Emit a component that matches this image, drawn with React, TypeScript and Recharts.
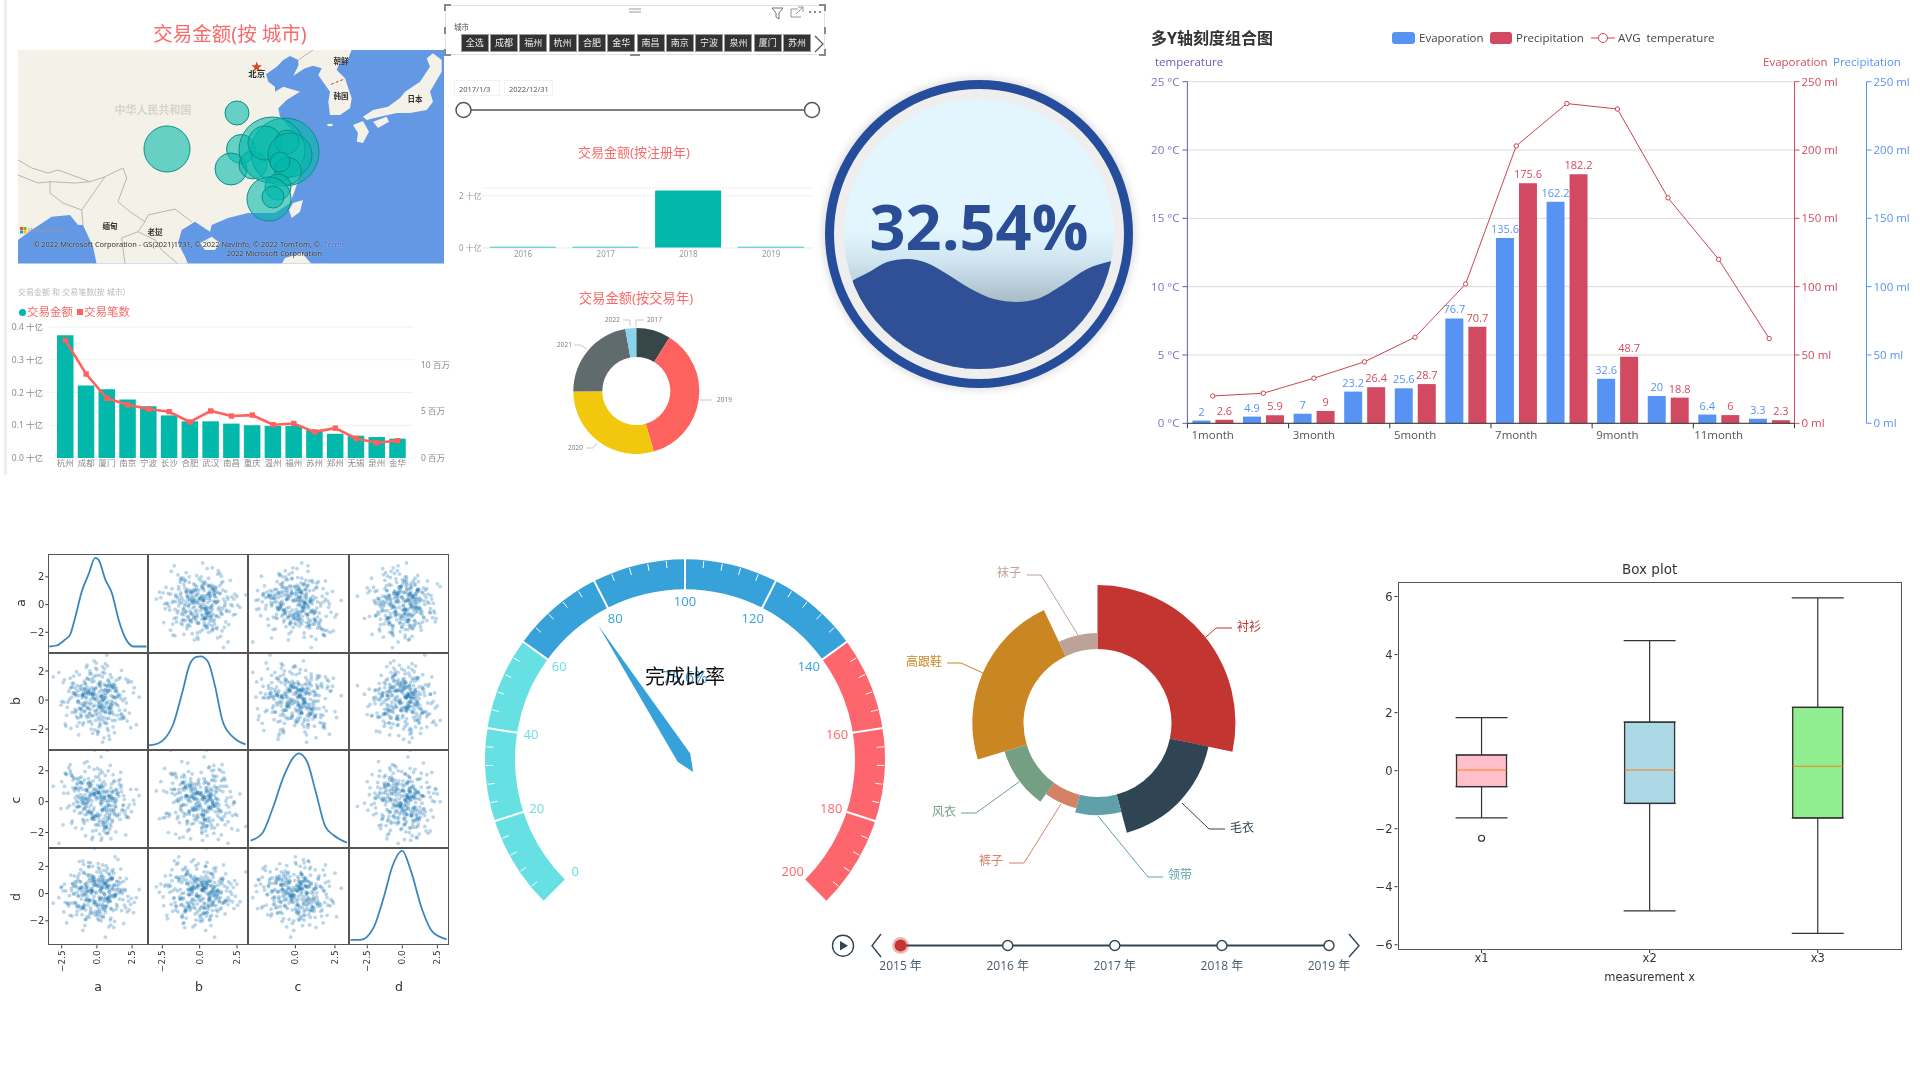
import React from "react";
import {
  Area, AreaChart, Bar, BarChart, CartesianGrid, Cell, ComposedChart, ErrorBar, LabelList, Line, LineChart,
  Pie, PieChart, Scatter, ScatterChart, XAxis, YAxis, ZAxis,
} from "recharts";

const cjk = "'Noto Sans','Noto Sans CJK SC',sans-serif";
const open = "'Open Sans','Noto Sans CJK SC',sans-serif";
const dejavu = "'DejaVu Sans',sans-serif";
const TEAL = "#01B8AA";
const CORAL = "#FD625E";

// ---------- map bubbles ----------
const bubbleX = [149, 219, 223, 213, 235, 267, 254, 247, 269, 272, 270, 262, 260, 251, 255];
const bubbleY = [99, 63, 99, 119, 115, 102, 100, 93, 92, 105, 121, 112, 137, 149, 147];
const bubbleArea = [1662, 452, 660, 804, 616, 3632, 3421, 908, 452, 1521, 573, 314, 531, 1521, 380];

// ---------- city combo ----------
const cities = ["杭州", "成都", "厦门", "南京", "宁波", "长沙", "合肥", "武汉", "南昌", "重庆", "温州", "福州", "苏州", "郑州", "无锡", "泉州", "金华"];
const cityAmount = [0.375, 0.221, 0.21, 0.179, 0.158, 0.13, 0.112, 0.112, 0.105, 0.1, 0.098, 0.098, 0.086, 0.074, 0.068, 0.064, 0.059];
const cityCount = [12.6, 9.0, 6.4, 5.7, 5.25, 4.96, 3.86, 5.04, 4.5, 4.6, 3.57, 3.7, 2.8, 3.2, 2.1, 1.64, 1.86];

// ---------- slicer / registration year ----------
const slicerCities = ["全选", "成都", "福州", "杭州", "合肥", "金华", "南昌", "南京", "宁波", "泉州", "厦门", "苏州"];
const regYears = ["2016", "2017", "2018", "2019"];
const regAmount = [0.05, 0.05, 2.2, 0.05];

// ---------- trade-year donut ----------
const tradeYears = ["2017", "2019", "2020", "2021", "2022"];
const tradeShare = [8.8, 36.7, 29.4, 22.3, 2.8];
const tradeColors = ["#374649", CORAL, "#F2C80F", "#5F6B6D", "#8AD4EB"];

// ---------- liquid ----------
const waveX = [0, 8, 27, 43, 63, 83, 103, 127, 150, 173, 193, 217, 243, 268, 270];
const waveH = [83, 88, 98, 107, 110, 106, 95, 80, 70, 67, 70, 83, 100, 108, 108.5];

// ---------- multi axis ----------
const months = ["1month", "2month", "3month", "4month", "5month", "6month", "7month", "8month", "9month", "10month", "11month", "12month"];
const evaporation = [2, 4.9, 7, 23.2, 25.6, 76.7, 135.6, 162.2, 32.6, 20, 6.4, 3.3];
const precipitation = [2.6, 5.9, 9, 26.4, 28.7, 70.7, 175.6, 182.2, 48.7, 18.8, 6, 2.3];
const avgTemp = [2, 2.2, 3.3, 4.5, 6.3, 10.2, 20.3, 23.4, 23, 16.5, 12, 6.2];

// ---------- scatter matrix ----------
const aVals = [0.3,-0.8,1.2,-0.1,0.6,-1.5,0.9,-0.4,2.1,-2.0,0.1,0.7,-0.6,1.6,-1.1,0.4,-0.2,1.0,-1.8,0.2,-0.9,0.8,2.6,-0.3,0.5,-1.3,1.4,-0.7,0.0,1.1,-2.4,0.6,-0.5,1.9,-1.0,0.3,-0.1,1.3,-1.6,0.9,-3.1,0.2,0.7,-0.8,1.7,-0.4,0.5,-1.2,1.0,-0.2,2.3,-1.7,0.1,0.8,-0.6,1.2,-0.9,0.4,-1.4,0.6,3.0,-0.3,0.2,-1.1,1.5,-0.5,0.9,-2.2,0.3,1.1,-0.7,0.0,1.8,-1.0,0.5,-0.2,-1.9,0.7,1.3,-0.4,0.2,-1.3,2.0,-0.6,0.8,-0.1,1.0,-1.5,0.4,-2.7,0.6,1.4,-0.8,0.1,-0.3,1.2,-1.2,0.9,2.4,-0.5,0.3,-1.0,0.6,1.6,-0.7,-0.1,1.1,-1.6,0.4,-2.1,0.8,0.2,-0.4,1.3,-0.9,0.5,-1.4,1.9,0.0,-0.6,0.7,-1.1,1.0,-0.2,2.8,-1.8,0.3,0.9,-0.5,1.5,-0.8,0.1,-1.2,0.6,-0.3,1.2,-2.5,0.4,0.8,-0.7,1.7,-1.0,0.2,-0.1,1.1,-1.5,0.5,-0.4,2.2,-0.9,0.7,-1.3,0.0,1.4,-0.6,0.3,-1.7,0.9,-0.2,1.0,-2.3,0.6,1.8,-0.8,0.1,-1.1,0.4,-0.5,1.3,-1.4,0.8,-0.3,0.2,2.0,-1.9,0.5,-0.7,1.1,-1.0,0.3,
  -0.25,0.85,-1.05,0.35,1.55,-0.65,0.15,-1.35,0.75,-0.45,1.15,-0.15,-2.15,0.55,1.75,-0.95,0.25,-0.55,1.25,-1.65,0.45,0.95,-0.35,-1.25,0.65,2.25,-0.75,0.05,-1.45,1.05,0.35,-0.85,1.45,-0.05,-1.85,0.85,0.15,-0.65,2.45,-1.15,0.55,-0.25,0.75,-1.55,1.35,-0.45,0.25,-2.55,0.95,-0.15,1.65,-0.95,0.45,-0.75,1.15,-1.25,0.05,0.65,-0.35,1.85,-1.75,0.35,-0.55,0.85,-1.05,2.05,0.15,-0.25,-1.35,1.25,0.55,-0.85,0.75,-2.35,0.25,1.05,-0.65,-0.05,1.55,-1.45,0.45,-0.15,0.95,-0.95,-1.95,1.35,0.65,-0.45,0.05,-1.15,2.65,-0.35,0.35,-0.75,1.45,-1.65,0.85,-0.25,0.15,-1.05,1.75,-0.55,0.55,-2.05,1.15,-0.85,0.25,-0.15,0.75,-1.35,1.95,-0.65,0.45,-1.25,0.05,1.05,-0.45,-1.75,0.95,0.35,-0.95,2.15,-0.05,0.65,-1.55,1.25,-0.35,0.15,-0.75,1.65,-2.25,0.85,-0.25,0.55,-1.15,0.25,1.35,-0.55,-0.85,1.05,0.45,-1.45,0.75,-0.15];
const bVals = [-0.5,1.1,0.2,-1.4,0.7,0.3,-0.9,1.8,-0.2,0.6,-2.2,1.0,0.4,-0.7,-1.1,2.3,0.1,-0.3,0.9,-1.6,1.3,-0.6,0.5,1.5,-2.6,-0.1,0.8,-1.2,0.3,-0.4,1.2,-0.8,2.0,0.6,-1.7,0.2,-1.0,0.9,0.4,-0.5,1.6,-0.2,-1.3,0.7,0.1,-2.0,1.1,-0.6,0.3,2.7,-0.9,0.5,-0.1,1.4,-1.5,0.8,-0.4,-2.9,0.6,1.0,0.2,-1.1,1.7,-0.7,0.4,-0.3,1.2,-1.8,0.0,0.9,-0.5,2.1,-1.2,0.3,-0.8,0.7,1.5,-0.2,-1.4,0.5,1.0,-2.4,0.1,-0.6,1.3,0.8,-0.9,0.4,-0.1,1.9,-1.6,0.6,-0.3,1.1,0.2,-1.0,0.7,-0.7,-1.9,1.4,0.3,-0.4,2.5,-1.3,0.9,0.0,-0.8,0.5,1.6,-0.5,-2.1,1.2,0.4,-0.2,0.8,-1.5,1.0,-1.1,0.1,0.6,3.1,-0.6,-0.3,1.3,-1.7,0.2,0.7,-0.9,1.8,-0.4,0.5,-1.2,0.9,0.3,-2.3,1.1,-0.1,-0.7,0.6,1.5,-1.0,0.4,-0.5,2.2,-1.4,0.8,0.0,-0.2,1.2,-0.8,-1.6,0.3,1.7,-0.3,0.5,-1.1,0.9,-2.7,0.1,-0.6,1.4,0.7,-1.3,0.2,-0.4,1.0,1.9,-0.9,0.6,-1.8,-0.1,0.4,1.1,-0.7,0.8,-1.2,2.4,-0.2,0.3,-0.5,
  0.75,-1.25,0.15,-0.35,1.45,0.55,-1.85,-0.15,0.95,-0.65,0.25,1.65,-1.05,-0.45,2.05,0.35,-0.85,0.65,-2.25,1.15,0.05,-0.55,0.85,-1.55,-0.25,1.35,0.45,-0.95,1.95,-0.05,-1.35,0.75,0.25,-0.75,-1.95,1.05,0.55,-0.15,1.25,-1.15,-0.55,0.35,2.35,-0.85,0.15,-1.45,0.95,-0.35,0.65,-2.05,1.55,-0.25,0.05,-1.05,0.85,1.75,-0.65,0.45,-1.65,-0.05,1.15,0.25,-0.95,-2.45,0.75,1.45,-0.45,0.35,-1.25,0.15,1.85,-0.75,0.55,-0.15,-1.75,1.05,-0.55,2.55,0.25,-1.15,0.65,-0.35,0.95,-1.55,0.05,1.35,-0.85,0.45,-2.15,-0.25,0.85,1.25,-0.65,0.15,-1.05,1.65,-0.45,0.55,-1.35,0.35,-0.95,0.75,2.15,-0.15,-1.85,1.15,0.25,-0.75,0.65,-0.05,-1.25,1.45,0.45,-0.55,-2.35,0.95,0.05,-0.85,1.75,-0.35,0.55,-1.45,0.85,0.15,-0.65,1.05,-1.05,-0.25,2.25,0.35,-1.65,0.75,-0.45,0.15,-0.95,1.25,0.65,-1.15,-0.15,1.55,0.25,-0.75,-1.95,0.45];
const cVals = [1.0,0.2,-0.6,0.8,-1.3,1.5,0.4,-0.2,-1.0,2.2,0.6,-1.7,0.3,-0.8,1.2,0.0,-0.4,0.9,1.7,-2.1,-0.5,0.7,0.1,-1.1,1.3,-0.3,0.5,2.6,-0.9,0.2,-1.5,1.1,-0.7,0.4,0.8,-2.5,1.6,-0.1,-0.6,0.3,1.0,-1.2,0.6,-0.4,1.9,-0.8,0.2,1.3,-1.6,0.5,-0.2,0.9,-1.0,2.0,0.1,-0.5,-1.4,0.7,1.1,-0.3,0.4,-2.3,1.4,-0.7,0.6,0.2,-0.9,1.8,-0.1,-1.2,0.8,0.3,-0.6,1.2,-1.9,0.5,2.4,-0.4,0.0,-1.1,1.0,0.7,-0.8,1.5,-0.2,-1.5,0.4,0.9,-0.5,-2.7,1.7,0.1,-0.3,0.6,-1.0,1.3,0.2,-1.8,0.8,-0.6,2.9,0.3,-0.9,1.1,-0.1,0.5,-1.3,0.7,1.9,-0.4,-2.0,0.9,-0.7,0.2,1.4,-1.1,0.4,-0.2,0.6,1.2,-1.6,0.0,-0.5,2.1,0.8,-1.4,0.3,-0.8,1.0,0.5,-2.2,1.6,-0.3,0.1,-1.0,0.7,1.3,-0.6,0.4,-1.2,0.9,-0.1,1.8,-0.9,0.2,-1.7,0.6,1.1,-0.4,2.5,-0.7,0.3,-1.5,0.8,0.0,-0.2,1.4,-1.1,0.5,-2.4,1.0,0.7,-0.5,0.2,-0.9,1.6,-1.3,0.4,-0.3,1.2,0.1,-1.9,0.9,-0.6,2.0,0.3,-0.8,0.6,
  -1.15,0.45,0.85,-0.25,-1.75,0.15,1.35,-0.65,0.55,-0.05,-2.05,1.05,0.25,-0.95,1.75,-0.45,0.65,-1.25,0.35,2.25,-0.75,-0.15,0.95,-1.45,0.05,1.55,-0.55,-1.05,0.75,0.25,-0.35,1.15,-2.35,0.45,-0.85,0.15,1.85,-0.25,-1.55,0.65,-0.65,1.25,0.35,-1.15,-0.05,0.85,-1.95,0.55,2.05,-0.45,0.25,-0.95,1.45,-0.15,-1.35,0.75,0.05,-0.75,1.05,-1.65,0.45,-0.25,1.65,-0.55,0.95,-1.05,0.15,-2.15,0.65,1.35,-0.35,-0.85,0.25,1.95,-1.25,0.55,-0.05,-0.65,1.15,-1.85,0.35,0.85,-0.45,-1.15,2.35,0.05,-0.25,0.75,-1.45,1.25,-0.75,0.45,-0.15,-2.45,0.95,0.15,-0.95,1.55,-0.55,0.65,-1.35,0.25,1.05,-0.35,-1.75,0.55,1.75,-0.05,-0.85,0.35,-1.05,1.45,0.15,-0.65,-1.55,0.85,2.15,-0.25,0.45,-1.25,0.05,1.15,-0.45,-0.95,0.75,-2.05,0.25,1.35,-0.75,0.55,-0.15,-1.15,1.85,0.35,-0.55,-1.65,0.95,0.15,-0.35,1.25,-0.85,0.65,-1.45,0.05];
const dVals = [0.1,-1.2,0.6,0.9,-0.3,-0.7,1.4,0.2,1.1,-0.9,-1.6,0.5,2.0,0.3,-0.4,-1.1,0.8,-2.3,0.4,1.2,0.0,-0.6,-1.4,1.0,0.7,-0.2,-0.8,-1.7,1.6,0.5,0.2,-1.0,-0.5,0.9,2.4,0.6,-1.3,-0.1,1.3,0.3,-0.7,1.8,-0.4,-1.9,0.8,0.1,-0.9,0.4,1.1,-0.6,-1.2,0.7,2.2,-0.3,0.2,1.5,-0.8,0.5,-1.0,-3.2,0.3,1.0,-0.5,-0.1,0.9,-1.5,0.6,0.2,-2.0,1.2,-0.4,0.7,0.0,-1.1,1.7,-0.2,-0.7,0.4,2.7,-1.4,0.8,-0.9,0.3,1.3,-0.6,0.1,-1.8,0.5,1.0,-0.3,-1.2,0.6,-0.5,1.9,0.2,-2.5,0.9,-0.1,-0.8,1.1,0.4,-1.0,0.7,-0.4,1.4,-1.6,0.3,0.0,2.1,-0.7,0.5,-1.3,0.8,-0.2,-0.9,1.2,0.1,-2.2,0.6,-0.6,1.6,0.4,-1.1,0.9,-0.3,0.2,-1.7,1.0,-0.5,2.5,0.7,-0.8,0.3,-1.4,1.3,-0.1,0.5,-1.0,-0.4,0.8,1.8,-2.7,0.2,-0.6,1.1,0.6,-1.2,0.0,-0.2,1.5,-0.9,0.4,-1.5,0.9,2.3,-0.3,-0.7,0.1,1.2,-1.1,0.7,-0.5,0.3,-1.9,1.0,0.5,-0.8,1.4,-0.1,-1.3,0.6,2.0,-0.4,0.2,-1.6,0.8,-0.2,1.1,-1.0,0.4,
  0.55,-0.35,-1.55,1.25,0.05,-0.85,0.95,-0.15,1.85,-1.25,0.35,-0.65,-2.15,0.75,0.15,-1.05,1.55,-0.45,0.65,-0.05,-1.75,1.15,0.25,-0.95,2.05,-0.55,0.45,-1.35,0.85,-0.25,1.05,-2.35,0.35,-0.75,1.35,0.15,-1.15,0.55,-0.35,1.75,-0.05,-1.45,0.95,-0.65,0.25,2.25,-0.85,0.45,-1.95,0.65,1.15,-0.15,-0.55,0.05,-1.25,1.45,-0.95,0.75,0.35,-0.45,-1.65,0.85,1.95,-0.25,0.15,-1.05,0.55,-0.75,1.25,-2.05,0.45,-0.05,0.95,-1.35,-0.35,1.65,0.25,-0.85,0.65,-1.55,0.05,1.05,-0.55,2.15,-0.15,-1.15,0.75,0.35,-1.85,0.85,-0.65,0.15,1.35,-0.45,-0.95,0.55,-2.45,1.15,-0.25,0.45,-1.25,0.95,-0.05,-0.75,1.75,0.25,-1.45,0.65,-0.35,1.05,-0.85,0.15,-1.65,2.35,0.55,-0.15,-1.05,0.75,-0.55,0.35,1.55,-1.35,0.05,-0.95,0.85,-0.25,1.25,-1.95,0.45,0.15,-0.65,1.45,-0.45,0.95,-1.15,0.25,-0.05,-1.75,0.65,1.05,-0.35,-0.85,0.55];
const matrixVals = [aVals, bVals, cVals, dVals];
const matrixNames = ["a", "b", "c", "d"];
const matrixDomains: [number, number][] = [[-3.45, 3.65], [-3.46, 3.24], [-3.0, 3.35], [-3.8, 3.35]];
const kdeX = [
  [-3.38, -2.86, -2.26, -1.9, -1.55, -1.07, -0.6, -0.12, 0.12, 0.6, 1.07, 1.55, 2.02, 2.62, 3.52],
  [-3.41, -2.79, -1.79, -1.12, -0.67, -0.22, 0.07, 0.56, 1.0, 1.56, 2.23, 3.08],
  [-2.84, -2.1, -1.47, -0.74, -0.1, 0.21, 0.74, 1.26, 1.89, 2.42, 3.26],
  [-3.69, -2.98, -2.02, -1.31, -0.71, 0, 0.6, 1.43, 2.14, 3.17],
];
const kdeY = [
  [0.06, 0.07, 0.13, 0.18, 0.35, 0.62, 0.79, 0.96, 0.94, 0.74, 0.6, 0.33, 0.146, 0.06, 0.06],
  [0.05, 0.07, 0.26, 0.62, 0.88, 0.96, 0.966, 0.91, 0.68, 0.29, 0.137, 0.06],
  [0.075, 0.15, 0.39, 0.73, 0.93, 0.966, 0.88, 0.59, 0.22, 0.13, 0.054],
  [0.055, 0.055, 0.19, 0.5, 0.81, 0.97, 0.77, 0.36, 0.14, 0.06],
];

// ---------- gauge ----------
const gaugeBands = [60, 80, 60];
const gaugeColors = ["#67E0E3", "#37A2DA", "#FD666D"];
const gaugeLabels = [0, 20, 40, 60, 80, 100, 120, 140, 160, 180, 200];
const gaugeValue = 75.6;

// ---------- rose ----------
const roseNames = ["衬衫", "毛衣", "领带", "裤子", "风衣", "高跟鞋", "袜子"];
const roseValues = [102, 63, 29, 22, 37, 81.6, 25.4];
const roseColors = ["#C23531", "#2F4554", "#61A0A8", "#D48265", "#749F83", "#CA8622", "#BDA29A"];
const timelineYears = ["2015 年", "2016 年", "2017 年", "2018 年", "2019 年"];
const timelineLevel = [0, 0, 0, 0, 0];

// ---------- box ----------
const boxNames = ["x1", "x2", "x3"];
const boxMin = [-1.63, -4.83, -5.61];
const boxQ1 = [-0.55, -1.13, -1.63];
const boxMedian = [0.02, 0.02, 0.15];
const boxQ3 = [0.54, 1.67, 2.18];
const boxMax = [1.83, 4.48, 5.95];
const boxOutlier = [-2.33, null, null];
const boxColors = ["#FFC0CB", "#ADD8E6", "#90EE90"];

const at = (left: number, top: number, extra: React.CSSProperties = {}): React.CSSProperties => ({ position: "absolute", left, top, ...extra });
const Txt = ({ x, y, size, color, children, anchor = "left", font = cjk, weight = 400, style = {} }: any) => (
  <div style={{
    position: "absolute", left: x, top: y, fontSize: size, color, fontFamily: font, fontWeight: weight, whiteSpace: "pre", lineHeight: 1,
    transform: anchor === "center" ? "translate(-50%,-50%)" : anchor === "right" ? "translate(-100%,-50%)" : "translateY(-50%)", ...style,
  }}>{children}</div>
);

const LAND = "#F4F1E9";
const halo = { textShadow: "0 0 1.5px rgba(255,255,255,.8)" };

function MapPanel() {
  const rows = bubbleX.map((x, i) => ({ x, y: bubbleY[i], z: bubbleArea[i] }));
  return (
    <>
      <svg width={450} height={270} style={at(0, 0)}>
        <defs><clipPath id="mapclip"><rect x={18} y={50} width={426} height={213.5} /></clipPath></defs>
        <g clipPath="url(#mapclip)">
          <rect x={18} y={50} width={426} height={214} fill="#6398E4" />
          <path fill={LAND} d="M18 50 L351.7 50 L348.3 58.3 L338.3 65.7 L336.7 70 L345 78.3 L351.7 98.3 L350 108.3 L340 115 L330 115 L328.3 101.7 L330 91.7 L321.7 80 L318.3 75 L321.7 68.3 L313.3 65.7 L305 68.3 L293.3 75.7 L298.3 65.7 L298.3 60 L290 56 L283.3 60 L276.7 66.7 L266 74.3 L268.3 81.7 L275 86.7 L275 91.7 L283.3 86.7 L300 91.7 L286.7 100 L278.3 108.3 L280 116.7 L305 145 L301.7 170 L295 190 L290 203.3 L275 213 L248 213 L228 218 L211.7 225 L210 231.7 L195 221.7 L181.7 230 L178 243 L185 256.7 L188 264 L96.7 264 L93 246.7 L83 225 L78 225 L70 215 L51.7 216.7 L31.7 230 L18 240 Z" />
          <path fill={LAND} d="M363 116.7 L373 110 L388 106.7 L400 98 L405 91.7 L420 81.7 L430 66.7 L426.7 58.3 L433 53.3 L441.7 60 L441.7 71.7 L438 78 L430 91.7 L433 101.7 L426.7 110 L410 113 L396.7 113 L380 116.7 L366.7 120 Z" />
          <path fill={LAND} d="M373 121.7 L386.7 116.7 L389 121.7 L378 128 Z M353 125 L363 121 L369 131.7 L363 143 L356.7 141.7 L358 133 Z M293 203 L303 200 L300 211.7 L291.7 218 L289 210 Z M200 243 L211.7 236.7 L220 243 L215 250 L205 250 Z M281.7 264 L285 258 L301.7 253 L311.7 264 Z" />
          <ellipse cx={330} cy={125} rx={3} ry={1.3} fill={LAND} />
          <path fill="none" stroke="#B9B6AF" strokeWidth={1} d="M18 160 L31.7 168 L48 173 L58 170 L90 181.7 L105 176.7 L115 171.7 L123 168 L126.7 178 L118 201.7 L130 211.7 L145 221.7 L148 215 L175 209 L191.7 221.7 M18 175 L38 183 L50 181.7 L75 183 L90 181.7 M50 181.7 L50 193 L63 203 L81.7 210 L83 225 M105 176.7 L81.7 210 M145 221.7 L138 231.7 L121.7 238 L125 264 M138 231.7 L155 240 L161.7 250 L178 264 M313 50 L298.3 60" />
          <path fill="none" stroke="#B04A4A" strokeDasharray="3 2" strokeWidth={1} d="M331 84.3 L343.7 79.3" />
          <polygon fill="#D8481B" points="256.7,61.5 258,65.3 262,65.3 258.8,67.8 260,71.6 256.7,69.3 253.4,71.6 254.6,67.8 251.4,65.3 255.4,65.3" />
          <rect x={20} y={227} width={3} height={3} fill="#F25022" /><rect x={23.5} y={227} width={3} height={3} fill="#7FBA00" />
          <rect x={20} y={230.5} width={3} height={3} fill="#00A4EF" /><rect x={23.5} y={230.5} width={3} height={3} fill="#FFB900" />
        </g>
      </svg>
      <div style={at(18, 50)}>
        <ScatterChart width={426} height={213} margin={{ top: 0, right: 0, bottom: 0, left: 0 }} style={{ overflow: "hidden" }}>
          <XAxis type="number" dataKey="x" domain={[0, 426]} hide />
          <YAxis type="number" dataKey="y" domain={[0, 213]} reversed hide />
          <ZAxis type="number" dataKey="z" domain={[0, 4000]} range={[0, 4000]} />
          <Scatter data={rows} fill={TEAL} fillOpacity={0.58} stroke="#0A8F84" strokeWidth={1} isAnimationActive={false} />
        </ScatterChart>
      </div>
      <Txt x={230} y={34} size={19.5} color="#F96A6A" anchor="center">交易金额(按 城市)</Txt>
      <Txt x={153} y={109} size={11} color="#D6D3CC" anchor="center" weight={700}>中华人民共和国</Txt>
      <Txt x={256.7} y={74.3} size={8.5} color="#222" anchor="center" weight={700}>北京</Txt>
      <Txt x={341} y={62.3} size={7.5} color="#333" anchor="center" weight={700}>朝鲜</Txt>
      <Txt x={341} y={96.7} size={7.5} color="#333" anchor="center" weight={700}>韩国</Txt>
      <Txt x={415} y={100} size={7.5} color="#333" anchor="center" weight={700}>日本</Txt>
      <Txt x={110} y={226.7} size={7.5} color="#333" anchor="center" weight={700}>缅甸</Txt>
      <Txt x={155} y={233.3} size={7.5} color="#333" anchor="center" weight={700}>老挝</Txt>
      <Txt x={28} y={230} size={5} color="#999">Microsoft Bing</Txt>
      <Txt x={33.3} y={245} size={7.4} color="#333" style={halo}>© 2022 Microsoft Corporation - GS(2021)1731, © 2022 NavInfo, © 2022 TomTom, ©</Txt>
      <Txt x={324} y={245} size={7.4} color="#4C60C0" style={halo}>Terms</Txt>
      <Txt x={226.7} y={254.3} size={7.4} color="#333" style={halo}>2022 Microsoft Corporation</Txt>
    </>
  );
}

function CityCombo() {
  const rows = cities.map((c, i) => ({ c, amount: cityAmount[i], count: cityCount[i] }));
  const tick = { fontSize: 8.5, fill: "#8a8a8a", fontFamily: cjk };
  return (
    <>
      <Txt x={18} y={292} size={8} color="#bbb">交易金额 和 交易笔数(按 城市)</Txt>
      <div style={at(19, 308.5, { width: 7, height: 7, borderRadius: 4, background: TEAL })} />
      <Txt x={27} y={312} size={11.5} color="#F96A6A">交易金额</Txt>
      <div style={at(77, 309, { width: 6, height: 6, background: CORAL })} />
      <Txt x={84} y={312} size={11.5} color="#F96A6A">交易笔数</Txt>
      <div style={at(0, 320)}>
        <ComposedChart width={450} height={160} data={rows} margin={{ top: 7, right: 0, bottom: 2, left: 0 }}>
          <CartesianGrid vertical={false} yAxisId="amt" stroke="#F1F1F1" />
          <XAxis dataKey="c" interval={0} axisLine={false} tickLine={false} tickSize={0} tick={tick} height={20} padding={{ left: 6, right: 6 }} tickMargin={2} />
          <YAxis yAxisId="amt" width={49} domain={[0, 0.4]} ticks={[0, 0.1, 0.2, 0.3, 0.4]} axisLine={false} tickLine={false} tick={tick} tickFormatter={(v: number) => `${v.toFixed(1)}\u00A0十亿`} tickSize={0} tickMargin={6} />
          <YAxis yAxisId="cnt" orientation="right" width={36} domain={[0, 14.04]} ticks={[0, 5, 10]} axisLine={false} tickLine={false} tick={tick} tickFormatter={(v: number) => `${v}\u00A0百万`} tickSize={0} tickMargin={7} />
          <Bar yAxisId="amt" dataKey="amount" fill={TEAL} barSize={16.5} isAnimationActive={false} />
          <Line yAxisId="cnt" dataKey="count" stroke={CORAL} strokeWidth={2.6} isAnimationActive={false}
            dot={(p: any) => <rect key={p.index} x={p.cx - 2.7} y={p.cy - 2.7} width={5.4} height={5.4} fill={CORAL} />} />
        </ComposedChart>
      </div>
    </>
  );
}

function SlicerPanel() {
  const rows = regYears.map((y, i) => ({ y, v: regAmount[i] }));
  const tick = { fontSize: 8, fill: "#999", fontFamily: cjk };
  return (
    <>
      <div style={at(445, 5, { width: 380, height: 50, border: "1px solid #E2E2E2", boxSizing: "border-box" })} />
      <svg width={400} height={60} style={at(440, 0)}>
        <path fill="none" stroke="#8a8a8a" strokeWidth={2} d="M5 11 V5 H11 M379 5 H385 V11 M5 49 V55 H11 M379 55 H385 V49 M5 27 V34 M385 27 V34 M190 55 H200" />
        <path fill="none" stroke="#999" strokeWidth={1} d="M189 9 H201 M189 12 H201" />
        <path fill="none" stroke="#666" strokeWidth={0.9} d="M332 8 H343 L339 13 V19 L336 17 V13 Z" />
        <path fill="none" stroke="#888" strokeWidth={0.9} d="M351 9 V17 H361 M351 9 H358 M363 12 V7 H358 M356 14 L363 7" />
        <circle cx={370} cy={12} r={0.9} fill="#555" /><circle cx={375} cy={12} r={0.9} fill="#555" /><circle cx={380} cy={12} r={0.9} fill="#555" />
        <path fill="none" stroke="#555" strokeWidth={1.2} d="M375 36 L383 44 L375 52" />
      </svg>
      <Txt x={454} y={28} size={7.5} color="#555">城市</Txt>
      {slicerCities.map((c, i) => (
        <div key={c} style={at(460.7 + i * 29.3, 34.3, { width: 28, height: 18, background: "#333", border: "1px solid #999", boxSizing: "border-box", color: "#eee", fontSize: 9, fontFamily: cjk, lineHeight: "16px", textAlign: "center" })}>{c}</div>
      ))}
      <div style={at(454, 80, { width: 46, height: 16, border: "1px solid #F1F1F1", color: "#555", fontSize: 7.5, fontFamily: cjk, lineHeight: "16px", paddingLeft: 4, boxSizing: "border-box" })}>2017/1/3</div>
      <div style={at(504, 80, { width: 49, height: 16, border: "1px solid #F1F1F1", color: "#555", fontSize: 7.5, fontFamily: cjk, lineHeight: "16px", paddingLeft: 4, boxSizing: "border-box" })}>2022/12/31</div>
      <svg width={380} height={30} style={at(450, 95)}>
        <line x1={13} y1={15} x2={362} y2={15} stroke="#555" strokeWidth={1.6} />
        <circle cx={13.5} cy={15} r={7.5} fill="#fff" stroke="#555" strokeWidth={1.5} />
        <circle cx={362} cy={15} r={7.5} fill="#fff" stroke="#555" strokeWidth={1.5} />
      </svg>
      <Txt x={634} y={152} size={13} color="#F96A6A" anchor="center">交易金额(按注册年)</Txt>
      <div style={at(440, 180)}>
        <BarChart width={375} height={85} data={rows} margin={{ top: 8, right: 2.5, bottom: 0, left: 0 }}>
          <CartesianGrid vertical={false} yAxisId="v" stroke="#F1F1F1" />
          <XAxis dataKey="y" axisLine={{ stroke: "#EEE" }} tickLine={false} tick={tick} height={17} tickSize={0} tickMargin={3} />
          <YAxis yAxisId="v" width={41.7} domain={[0, 2.295]} ticks={[0, 2]} axisLine={false} tickLine={false} tick={tick} tickFormatter={(v: number) => `${v}\u00A0十亿`} tickSize={0} tickMargin={0} />
          <Bar yAxisId="v" dataKey="v" fill={TEAL} barSize={66} isAnimationActive={false} />
        </BarChart>
      </div>
      <Txt x={636} y={299} size={13.3} color="#F96A6A" anchor="center">交易金额(按交易年)</Txt>
      <div style={at(560, 320)}>
        <PieChart width={160} height={150} margin={{ top: 0, right: 0, bottom: 0, left: 0 }}>
          <Pie data={tradeYears.map((n, i) => ({ n, v: tradeShare[i] }))} dataKey="v" nameKey="n" cx={76.3} cy={71} innerRadius={34} outerRadius={63}
            startAngle={90} endAngle={-270} stroke="none" isAnimationActive={false}>
            {tradeYears.map((n, i) => <Cell key={n} fill={tradeColors[i]} />)}
          </Pie>
        </PieChart>
      </div>
      <svg width={260} height={200} style={at(520, 270, { pointerEvents: "none" })}>
        <path fill="none" stroke="#C8C8C8" strokeWidth={1} d="M116 57 V50 H124 M110 56 V50 H103 M67 79 L60 75 H54 M77 173 L73 178 H66 M180 130 H192" />
      </svg>
      <Txt x={647} y={320} size={6.5} color="#777" font={open}>2017</Txt>
      <Txt x={605} y={320} size={6.5} color="#777" font={open}>2022</Txt>
      <Txt x={557} y={345} size={6.5} color="#777" font={open}>2021</Txt>
      <Txt x={568} y={448} size={6.5} color="#777" font={open}>2020</Txt>
      <Txt x={717} y={400} size={6.5} color="#777" font={open}>2019</Txt>
    </>
  );
}

function Liquid() {
  const rows = waveX.map((x, i) => ({ x, h: waveH[i] }));
  return (
    <div style={at(824, 79, { width: 310, height: 310 })}>
      <div style={at(1, 1, { width: 308, height: 308, borderRadius: "50%", boxShadow: "0 0 9px 2px #dcdcdc", background: "#EEEEEE" })} />
      <div style={at(20, 20, { width: 270, height: 270, borderRadius: "50%", overflow: "hidden", background: "linear-gradient(180deg,#E3F6FD 0%,#E3F6FD 48%,#CFE5EF 60%,#A6BAC6 76%,#A6BAC6 100%)" })}>
        <AreaChart width={270} height={270} data={rows} margin={{ top: 0, right: 0, bottom: 0, left: 0 }}>
          <XAxis type="number" dataKey="x" domain={[0, 270]} hide />
          <YAxis type="number" domain={[0, 270]} hide />
          <Area type="monotone" dataKey="h" stroke="none" fill="#2F5096" fillOpacity={1} isAnimationActive={false} />
        </AreaChart>
      </div>
      <div style={at(0, 0)}>
        <PieChart width={310} height={310} margin={{ top: 0, right: 0, bottom: 0, left: 0 }}>
          <Pie data={[{ v: 32.54 }]} dataKey="v" cx={155} cy={155} innerRadius={145} outerRadius={154} startAngle={90} endAngle={-270} fill="#264D9B" stroke="none" isAnimationActive={false} />
        </PieChart>
      </div>
      <Txt x={155} y={146} size={63} color="#2A4D96" anchor="center" font={open} weight={700}>32.54%</Txt>
    </div>
  );
}

function MultiAxis() {
  const rows = months.map((m, i) => ({ m, e: evaporation[i], p: precipitation[i], t: avgTemp[i] }));
  const band = 606.9 / 12;
  const base = 403.3;
  const XTick = (p: any) => {
    const last = p.payload.value === "11month";
    return (
      <g>
        <line x1={p.x - band / 2} x2={p.x - band / 2} y1={base} y2={base + 5} stroke="#333" />
        {last && <line x1={p.x + band * 1.5} x2={p.x + band * 1.5} y1={base} y2={base + 5} stroke="#333" />}
        <text x={p.x} y={base + 16} textAnchor="middle" fontSize={11.5} fill="#555" fontFamily={open}>{p.payload.value}</text>
      </g>
    );
  };
  const axisTick = (color: string) => ({ fontSize: 11.5, fill: color, fontFamily: open });
  return (
    <>
      <Txt x={1151} y={38} size={16} color="#333" weight={700}>多Y轴刻度组合图</Txt>
      <div style={at(1392, 32, { width: 23, height: 12, background: "#5793F3", borderRadius: 3 })} />
      <Txt x={1419} y={38} size={11.5} color="#444" font={open}>Evaporation</Txt>
      <div style={at(1490, 32, { width: 22, height: 12, background: "#D14A61", borderRadius: 3 })} />
      <Txt x={1516} y={38} size={11.5} color="#444" font={open}>Precipitation</Txt>
      <svg width={26} height={14} style={at(1590, 31)}>
        <line x1={1} x2={25} y1={7} y2={7} stroke="#C94651" />
        <circle cx={13} cy={7} r={4.5} fill="#fff" stroke="#C94651" />
      </svg>
      <Txt x={1618} y={38} size={11.5} color="#444" font={open}>{"AVG  temperature"}</Txt>
      <Txt x={1155} y={62} size={11.5} color="#675BBA" font={open}>temperature</Txt>
      <Txt x={1763} y={62} size={11.5} color="#D14A61" font={open}>Evaporation</Txt>
      <Txt x={1833} y={62} size={11.5} color="#5793F3" font={open}>Precipitation</Txt>
      <div style={at(1130, 20)}>
        <ComposedChart width={790} height={440} data={rows} margin={{ top: 61.7, right: 0, bottom: 6.7, left: 0 }} barSize={18} barGap={5}>
          <CartesianGrid vertical={false} yAxisId="t" stroke="#DADADA" />
          <XAxis dataKey="m" interval={1} height={30} axisLine={{ stroke: "#333" }} tickLine={false} tick={<XTick />} />
          <YAxis yAxisId="t" width={57.4} domain={[0, 25]} ticks={[0, 5, 10, 15, 20, 25]} stroke="#675BBA" tick={axisTick("#7C72C6")} tickSize={5} tickMargin={3} tickFormatter={(v: number) => `${v} °C`} />
          <YAxis yAxisId="r1" orientation="right" width={72} domain={[0, 250]} ticks={[0, 50, 100, 150, 200, 250]} stroke="#D14A61" tick={axisTick("#D14A61")} tickSize={5} tickMargin={2} tickFormatter={(v: number) => `${v} ml`} />
          <YAxis yAxisId="r2" orientation="right" width={53.5} domain={[0, 250]} ticks={[0, 50, 100, 150, 200, 250]} stroke="#5793F3" tick={axisTick("#5793F3")} tickSize={5} tickMargin={2} tickFormatter={(v: number) => `${v} ml`} />
          <Bar yAxisId="r2" dataKey="e" fill="#5793F3" isAnimationActive={false}>
            <LabelList dataKey="e" position="top" fill="#5793F3" fontSize={11} fontFamily={open} />
          </Bar>
          <Bar yAxisId="r1" dataKey="p" fill="#D14A61" isAnimationActive={false}>
            <LabelList dataKey="p" position="top" fill="#D14A61" fontSize={11} fontFamily={open} />
          </Bar>
          <Line yAxisId="t" dataKey="t" stroke="#C94651" strokeWidth={1} dot={{ r: 2.2, fill: "#fff", stroke: "#C94651", strokeWidth: 1 }} isAnimationActive={false} />
        </ComposedChart>
      </div>
    </>
  );
}

function MatrixCell({ r, c }: { r: number; c: number }) {
  const colX = [48.3, 148.3, 248.3, 348.7, 449];
  const rowY = [554.3, 652.7, 750, 848, 945.3];
  const leftW = c === 0 ? 48.3 : 0;
  const botH = r === 3 ? 40 : 0;
  const w = colX[c + 1] - colX[c];
  const h = rowY[r + 1] - rowY[r];
  const tick = { fontSize: 10, fill: "#333", fontFamily: dejavu };
  const XT = (p: any) => (
    <text transform={`rotate(-90 ${p.x} ${p.y})`} x={p.x} y={p.y + 3} textAnchor="end" fontSize={9} fill="#333" fontFamily={dejavu}>
      {p.payload.value < 0 ? `−${Math.abs(p.payload.value).toFixed(1)}` : p.payload.value.toFixed(1)}
    </text>
  );
  const xAxis = (
    <XAxis type="number" dataKey="x" domain={matrixDomains[c]} ticks={[-2.5, 0, 2.5]} allowDataOverflow hide={r !== 3} height={botH || 0}
      axisLine={false} tickSize={3} stroke="#333" tick={<XT />} />
  );
  const yAxis = (
    <YAxis type="number" dataKey="y" domain={matrixDomains[r]} ticks={[-2, 0, 2]} allowDataOverflow hide={c !== 0} width={leftW || 0}
      axisLine={false} tickSize={3} stroke="#333" tick={tick} tickMargin={1} tickFormatter={(v: number) => (v < 0 ? `−${-v}` : `${v}`)} />
  );
  const margin = { top: 0, right: 0, bottom: 0, left: 0 };
  const size = { width: w + leftW, height: h + botH };
  const [lo, hi] = matrixDomains[r];
  return (
    <div style={at(colX[c] - leftW, rowY[r])}>
      {r === c ? (
        <ComposedChart {...size} margin={margin} data={kdeX[r].map((x, i) => ({ x, y: lo + kdeY[r][i] * (hi - lo) }))}>
          {xAxis}
          {yAxis}
          <Line type="monotone" dataKey="y" stroke="#3A87BE" strokeWidth={1.8} dot={false} isAnimationActive={false} />
        </ComposedChart>
      ) : (
        <ScatterChart {...size} margin={margin}>
          {xAxis}
          {yAxis}
          <Scatter data={matrixVals[c].map((x, i) => ({ x, y: matrixVals[r][i] }))} isAnimationActive={false}
            shape={(p: any) => <circle cx={p.cx} cy={p.cy} r={1.9} fill="#1F77B4" fillOpacity={0.3} />} />
        </ScatterChart>
      )}
      <div style={at(leftW, 0, { width: w, height: h, boxSizing: "border-box", border: "1px solid #555", pointerEvents: "none" })} />
    </div>
  );
}

function Matrix() {
  const xPos = [98, 199, 298, 399];
  const yPos = [603, 701, 800, 897];
  return (
    <>
      {matrixNames.map((_, r) => matrixNames.map((__, c) => <MatrixCell key={`${r}${c}`} r={r} c={c} />))}
      {matrixNames.map((n, i) => <Txt key={n} x={xPos[i]} y={987} size={12.5} color="#333" anchor="center" font={dejavu}>{n}</Txt>)}
      {matrixNames.map((n, i) => (
        <div key={n} style={{ position: "absolute", left: i === 0 ? 20 : 15, top: yPos[i], transform: "translate(-50%,-50%) rotate(-90deg)", fontSize: 12.5, color: "#333", fontFamily: dejavu }}>{n}</div>
      ))}
    </>
  );
}

function Gauge() {
  const cx = 215, cy = 219.3, ro = 200, ri = 170;
  const ang = (v: number) => ((225 - v * 1.35) * Math.PI) / 180;
  const pt = (v: number, r: number) => [cx + r * Math.cos(ang(v)), cy - r * Math.sin(ang(v))];
  const minor: number[] = [];
  for (let v = 0; v < 200; v += 4) if (v % 20 !== 0) minor.push(v);
  const ux = Math.cos(ang(gaugeValue)), uy = -Math.sin(ang(gaugeValue));
  const px = -uy, py = ux;
  const P = (a: number, b: number) => `${cx + a * ux + b * px},${cy + a * uy + b * py}`;
  const colorOf = (v: number) => (v <= 60 ? gaugeColors[0] : v <= 140 ? gaugeColors[1] : gaugeColors[2]);
  return (
    <div style={at(470, 540)}>
      <PieChart width={430} height={440} margin={{ top: 0, right: 0, bottom: 0, left: 0 }}>
        <Pie data={gaugeBands.map((v) => ({ v }))} dataKey="v" cx={cx} cy={cy} innerRadius={ri} outerRadius={ro} startAngle={225} endAngle={-45} stroke="none" isAnimationActive={false}>
          {gaugeBands.map((_, i) => <Cell key={i} fill={gaugeColors[i]} />)}
        </Pie>
      </PieChart>
      <svg width={430} height={440} style={at(0, 0, { pointerEvents: "none" })}>
        {minor.map((v) => { const a = pt(v, ro - 1), b = pt(v, ro - 8); return <line key={v} x1={a[0]} y1={a[1]} x2={b[0]} y2={b[1]} stroke="#fff" strokeWidth={1} />; })}
        {gaugeLabels.slice(1, -1).map((v) => { const a = pt(v, ro + 0.5), b = pt(v, ri - 0.5); return <line key={v} x1={a[0]} y1={a[1]} x2={b[0]} y2={b[1]} stroke="#fff" strokeWidth={2} />; })}
        {gaugeLabels.map((v) => { const p = pt(v, 158); return <text key={v} x={p[0] + (v > 100 ? -4 : v < 100 ? 2 : 0)} y={p[1]} dy={4.5} textAnchor="middle" fontSize={13} fill={colorOf(v)} fontFamily={open}>{v}</text>; })}
        <polygon points={[P(160, 0), P(2, 7.5), P(-15, 0), P(2, -7.5)].join(" ")} fill="#37A2DA" />
        <text x={cx} y={137} dy={6} textAnchor="middle" fontSize={16} fill="#37A2DA" fontFamily={open}>{gaugeValue}%</text>
        <text x={cx} y={137} dy={7} textAnchor="middle" fontSize={20} fill="#111" fontFamily={cjk}>完成比率</text>
      </svg>
    </div>
  );
}

function Rose() {
  let cum = 0;
  const pies = roseValues.map((v, i) => {
    const start = 90 - cum;
    cum += v;
    return { v, i, start, end: 90 - cum };
  });
  const leaders = [
    "M1206 637 L1216 628 L1232 628", "M1182 803 L1209 829 L1225 829", "M1098 816 L1148 877 L1163 877", "M1061 804 L1024 863 L1009 863",
    "M1019 782 L976 813 L961 813", "M983 673 L961 663 L947 663", "M1078 635 L1041 575 L1027 575",
  ];
  const labels = [
    { x: 1237, y: 627, a: "left" }, { x: 1230, y: 828, a: "left" }, { x: 1168, y: 875, a: "left" }, { x: 1003, y: 861, a: "right" },
    { x: 956, y: 812, a: "right" }, { x: 942, y: 662, a: "right" }, { x: 1021, y: 573, a: "right" },
  ];
  const timeline = timelineYears.map((y, i) => ({ y, v: timelineLevel[i] }));
  return (
    <>
      <div style={at(940, 570)}>
        <PieChart width={320} height={320} margin={{ top: 0, right: 0, bottom: 0, left: 0 }}>
          {pies.map((s) => (
            <Pie key={s.i} data={[{ v: s.v }]} dataKey="v" cx={157.5} cy={153} innerRadius={74} outerRadius={74 + s.v * 0.627} startAngle={s.start} endAngle={s.end} fill={roseColors[s.i]} stroke="none" isAnimationActive={false} />
          ))}
        </PieChart>
      </div>
      <svg width={1920} height={1080} style={at(0, 0, { pointerEvents: "none" })}>
        {leaders.map((d, i) => <path key={i} d={d} fill="none" stroke={roseColors[i]} strokeWidth={1} />)}
        <circle cx={843} cy={945.7} r={10.5} fill="none" stroke="#304654" strokeWidth={1.4} />
        <path d="M840 941 L848 945.7 L840 950.5 Z" fill="#304654" />
        <path d="M881 934 L872 945.7 L881 957 M1349 934 L1359 945.7 L1349 957" fill="none" stroke="#304654" strokeWidth={1.4} />
      </svg>
      {roseNames.map((n, i) => <Txt key={n} x={labels[i].x} y={labels[i].y} size={12} color={roseColors[i]} anchor={labels[i].a}>{n}</Txt>)}
      <div style={at(860, 930)}>
        <LineChart width={520} height={62} data={timeline} margin={{ top: 0, right: 51, bottom: 0, left: 40.6 }}>
          <XAxis dataKey="y" scale="point" interval={0} height={31} axisLine={false} tickLine={false} tickSize={0} tick={{ fontSize: 12, fill: "#4A5B68", fontFamily: open }} tickMargin={0} />
          <YAxis hide domain={[-1, 1]} />
          <Line dataKey="v" stroke="#304654" strokeWidth={1.8} isAnimationActive={false}
            dot={(p: any) => p.index === 0
              ? <g key={p.index}><circle cx={p.cx} cy={p.cy} r={8.5} fill="#C23531" fillOpacity={0.35} /><circle cx={p.cx} cy={p.cy} r={6} fill="#C23531" /></g>
              : <circle key={p.index} cx={p.cx} cy={p.cy} r={5} fill="#fff" stroke="#304654" strokeWidth={1.4} />} />
        </LineChart>
      </div>
    </>
  );
}

function BoxPlot() {
  const rows = boxNames.map((n, i) => ({ n, lo: boxMin[i], q1: boxQ1[i], med: boxMedian[i], q3: boxQ3[i], hi: boxMax[i], out: boxOutlier[i], color: boxColors[i] }));
  const tick = { fontSize: 11.5, fill: "#333", fontFamily: dejavu };
  const BoxShape = (p: any) => {
    const top = Math.min(p.y, p.y + p.height), hh = Math.abs(p.height), d = p.payload;
    const my = top + (hh * (d.q3 - d.med)) / (d.q3 - d.q1);
    return (
      <g>
        <rect x={p.x} y={top} width={p.width} height={hh} fill={d.color} stroke="#333" strokeWidth={1.3} />
        <line x1={p.x} x2={p.x + p.width} y1={my} y2={my} stroke="#FF7F0E" strokeWidth={1.1} />
      </g>
    );
  };
  return (
    <>
      <Txt x={1649.6} y={570} size={13.5} color="#333" anchor="center" font={dejavu}>Box plot</Txt>
      <div style={at(1360, 570)}>
        <ComposedChart width={560} height={400} data={rows} margin={{ top: 12.3, right: 18.2, bottom: 0, left: 0 }}>
          <XAxis dataKey="n" height={20} axisLine={false} tickSize={3} stroke="#333" tick={tick} tickMargin={1} />
          <YAxis width={37.5} domain={[-6.18, 6.49]} ticks={[-6, -4, -2, 0, 2, 4, 6]} allowDataOverflow axisLine={false} tickSize={3} stroke="#333" tick={tick} tickMargin={2} tickFormatter={(v: number) => (v < 0 ? `−${-v}` : `${v}`)} />
          <Line dataKey="q3" stroke="none" dot={false} isAnimationActive={false}>
            <ErrorBar dataKey={(d: any) => [0, d.hi - d.q3]} width={26} stroke="#333" strokeWidth={1.2} isAnimationActive={false} />
          </Line>
          <Line dataKey="q1" stroke="none" dot={false} isAnimationActive={false}>
            <ErrorBar dataKey={(d: any) => [d.q1 - d.lo, 0]} width={26} stroke="#333" strokeWidth={1.2} isAnimationActive={false} />
          </Line>
          <Bar dataKey={(d: any) => [d.q1, d.q3]} barSize={50} shape={<BoxShape />} isAnimationActive={false} />
          <Line dataKey="out" stroke="none" isAnimationActive={false} dot={{ r: 3, fill: "#fff", stroke: "#333", strokeWidth: 1.2 }} />
        </ComposedChart>
      </div>
      <div style={at(1397.5, 582.3, { width: 504.3, height: 367.7, boxSizing: "border-box", border: "1px solid #555", pointerEvents: "none" })} />
      <Txt x={1649.6} y={978} size={11.5} color="#333" anchor="center" font={dejavu}>measurement x</Txt>
    </>
  );
}

export default function App() {
  return (
    <div style={{ position: "absolute", left: 0, top: 0, width: 1920, height: 1080, background: "#fff", overflow: "hidden", filter: "blur(0.35px)" }}>
      <div style={at(4, 0, { width: 3, height: 475, background: "#EEEEEE" })} />
      <MapPanel />
      <CityCombo />
      <SlicerPanel />
      <Liquid />
      <MultiAxis />
      <Matrix />
      <Gauge />
      <Rose />
      <BoxPlot />
    </div>
  );
}
